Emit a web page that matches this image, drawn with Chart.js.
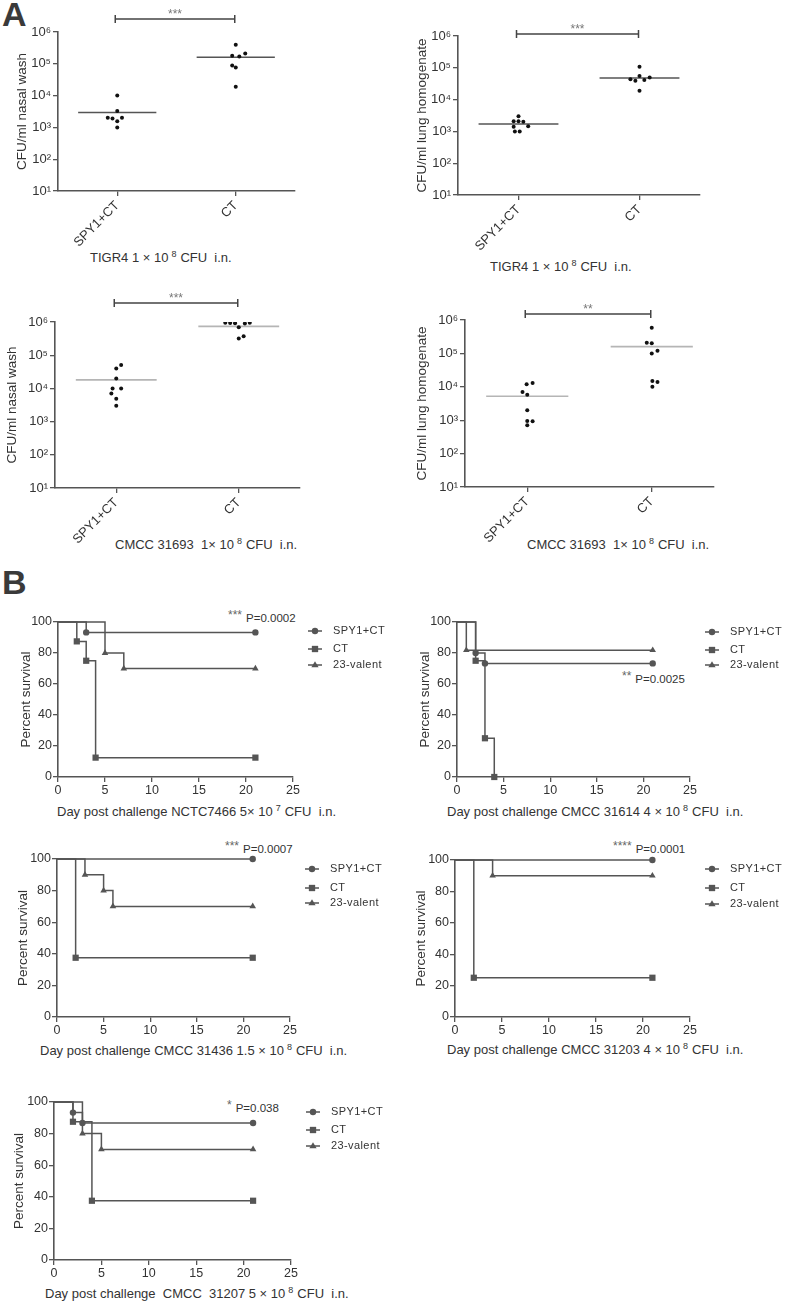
<!DOCTYPE html>
<html>
<head>
<meta charset="utf-8">
<script src="https://cdn.jsdelivr.net/npm/chart.js@4.4.1/dist/chart.umd.min.js"></script>
<style>
body{margin:0;background:#fff;}
#wrap{position:relative;width:785px;height:1304px;overflow:hidden;font-family:"Liberation Sans",Arial,sans-serif;color:#333;}
#wrap canvas{position:absolute;}
.lab{position:absolute;white-space:nowrap;font-size:13px;line-height:16px;}
.lab sup{font-size:9px;vertical-align:5px;line-height:0;margin-left:3px;margin-right:4px;}
.pv{position:absolute;white-space:nowrap;font-size:11.5px;line-height:14px;color:#333;}
.pv span{color:#666;font-size:12px;position:relative;top:-3px;margin-right:4px;}
.big{position:absolute;font-weight:bold;font-size:34px;line-height:34px;color:#3a3a3a;}
</style>
</head>
<body>
<div id="wrap">
  <div class="big" style="left:2px;top:-3px;">A</div>
  <div class="big" style="left:2px;top:565px;">B</div>

  <div class="lab" style="left:90px;top:250px;">TIGR4 1 × 10<sup>8</sup>CFU&nbsp; i.n.</div>
  <div class="lab" style="left:490px;top:259px;">TIGR4 1 × 10<sup>8</sup>CFU&nbsp; i.n.</div>
  <div class="lab" style="left:115px;top:537px;">CMCC 31693&nbsp; 1× 10<sup>8</sup>CFU&nbsp; i.n.</div>
  <div class="lab" style="left:527px;top:537px;">CMCC 31693&nbsp; 1× 10<sup>8</sup>CFU&nbsp; i.n.</div>

  <div class="lab" style="left:57px;top:804px;">Day post challenge NCTC7466 5× 10<sup>7</sup>CFU&nbsp; i.n.</div>
  <div class="lab" style="left:447px;top:804px;">Day post challenge CMCC 31614 4 × 10<sup>8</sup>CFU&nbsp; i.n.</div>
  <div class="lab" style="left:40px;top:1043px;">Day post challenge CMCC 31436 1.5 × 10<sup>8</sup>CFU&nbsp; i.n.</div>
  <div class="lab" style="left:447px;top:1042px;">Day post challenge CMCC 31203 4 × 10<sup>8</sup>CFU&nbsp; i.n.</div>
  <div class="lab" style="left:45px;top:1286px;">Day post challenge&nbsp; CMCC&nbsp; 31207 5 × 10<sup>8</sup>CFU&nbsp; i.n.</div>

  <div class="pv" style="left:228px;top:611px;"><span>***</span>P=0.0002</div>
  <div class="pv" style="left:622px;top:672px;"><span>**</span>P=0.0025</div>
  <div class="pv" style="left:225px;top:842px;"><span>***</span>P=0.0007</div>
  <div class="pv" style="left:613px;top:842px;"><span>****</span>P=0.0001</div>
  <div class="pv" style="left:227px;top:1101px;"><span>*</span>P=0.038</div>
</div>
<script>
Chart.defaults.font.family = '"Liberation Sans", Arial, sans-serif';
Chart.defaults.color = '#333';

var groups = ['SPY1+CT', 'CT'];
var decades = [10, 100, 1000, 10000, 100000, 1000000];
var supDigits = ['\u2070', '\u00b9', '\u00b2', '\u00b3', '\u2074', '\u2075', '\u2076'];

// TIGR4 nasal wash
var a1SpyJit = [0, 0, -0.08, -0.04, 0.04, 0, 0];
var a1SpyCfu = [10000, 3300, 2000, 1900, 2000, 1550, 1000];
var a1CtJit = [0, -0.03, 0.03, 0.08, -0.03, 0, 0];
var a1CtCfu = [400000, 180000, 170000, 210000, 89000, 77000, 19000];
var a1Median = [2950, 160000];

// TIGR4 lung homogenate
var a2SpyJit = [0, -0.04, 0, 0.04, -0.04, 0.08, -0.03, 0.01];
var a2SpyCfu = [3000, 2100, 2100, 2000, 1400, 1450, 1000, 1000];
var a2CtJit = [0, -0.075, -0.034, 0, 0.04, 0.084, 0];
var a2CtCfu = [107000, 44000, 39000, 55000, 41000, 49500, 19000];
var a2Median = [1700, 48000];

// CMCC 31693 nasal wash
var a3SpyJit = [0.04, 0, 0, -0.03, 0.04, -0.04, 0, 0];
var a3SpyCfu = [51000, 40000, 20000, 10000, 10000, 7000, 4900, 3000];
var a3CtJit = [-0.11, -0.07, -0.03, 0.05, 0.09, 0, 0.04, 0];
var a3CtCfu = [950000, 940000, 920000, 900000, 950000, 690000, 370000, 320000];
var a3Median = [18000, 740000];

// CMCC 31693 lung homogenate
var a4SpyJit = [0.043, -0.005, -0.038, 0, 0, 0, 0.043, 0];
var a4SpyCfu = [13000, 12000, 7000, 5800, 2000, 950, 930, 700];
var a4CtJit = [0, -0.04, 0, 0.046, 0, 0.005, 0.046, 0.005];
var a4CtCfu = [590000, 210000, 200000, 120000, 100000, 15000, 14000, 10000];
var a4Median = [5200, 160000];

// survival, day of event and percent surviving
var survLabels = ['SPY1+CT', 'CT', '23-valent'];
var survStyles = ['circle', 'rect', 'triangle'];
var survRadius = [3.2, 4.4, 3.8];

var b1SpyDay = [0, 3, 21];
var b1SpyPct = [100, 93.3, 93.3];
var b1CtDay = [0, 2, 3, 4, 21];
var b1CtPct = [100, 87.5, 75, 12.5, 12.5];
var b1VacDay = [0, 5, 7, 21];
var b1VacPct = [100, 80, 70, 70];

var b2SpyDay = [0, 2, 3, 21];
var b2SpyPct = [100, 80, 73.3, 73.3];
var b2CtDay = [0, 2, 3, 4];
var b2CtPct = [100, 75, 25, 0];
var b2VacDay = [0, 1, 21];
var b2VacPct = [100, 81.8, 81.8];

var b3SpyDay = [0, 21];
var b3SpyPct = [100, 100];
var b3CtDay = [0, 2, 21];
var b3CtPct = [100, 37.5, 37.5];
var b3VacDay = [0, 3, 5, 6, 21];
var b3VacPct = [100, 90, 80, 70, 70];

var b4SpyDay = [0, 21];
var b4SpyPct = [100, 100];
var b4CtDay = [0, 2, 21];
var b4CtPct = [100, 25, 25];
var b4VacDay = [0, 4, 21];
var b4VacPct = [100, 90, 90];

var b5SpyDay = [0, 2, 3, 21];
var b5SpyPct = [100, 93.3, 86.7, 86.7];
var b5CtDay = [0, 2, 4, 21];
var b5CtPct = [100, 87.5, 37.5, 37.5];
var b5VacDay = [0, 3, 5, 21];
var b5VacPct = [100, 80, 70, 70];

function addCanvas(cell){
    var cv = document.createElement('canvas');
    cv.width = cell[2]; cv.height = cell[3];
    cv.style.left = cell[0] + 'px'; cv.style.top = cell[1] + 'px';
    cv.style.width = cell[2] + 'px'; cv.style.height = cell[3] + 'px';
    document.getElementById('wrap').appendChild(cv);
    return cv;
}
function pad(cell, area, yw, xh){
    return {left: area[0] - cell[0] - yw, top: area[1] - cell[1],
            right: cell[0] + cell[2] - area[2], bottom: cell[1] + cell[3] - area[3] - xh};
}
function tickGrid(){
    return {drawOnChartArea:false, drawTicks:true, tickLength:5, color:'#555', lineWidth:1.3};
}
function marker(c, style, r, x, y){
    c.beginPath();
    if(style == 'circle'){ c.arc(x, y, r, 0, Math.PI * 2); }
    else if(style == 'rect'){ var s = r * 0.72; c.rect(x - s, y - s, 2 * s, 2 * s); }
    else { c.moveTo(x, y - r); c.lineTo(x + r * 0.95, y + r * 0.6); c.lineTo(x - r * 0.95, y + r * 0.6); c.closePath(); }
    c.fill();
}

// significance bracket above the two groups
var sigPlugin = {
    id: 'sig',
    afterDraw: function(chart, args, o){
        if(!o || !o.label) return;
        var c = chart.ctx, sx = chart.scales.x, a = chart.chartArea;
        var x1 = sx.getPixelForValue(1) - 2, x2 = sx.getPixelForValue(2) - 1, y = a.top - o.gap;
        c.save();
        c.strokeStyle = '#444'; c.lineWidth = 1.5;
        c.beginPath();
        c.moveTo(x1, y - 4); c.lineTo(x1, y + 4);
        c.moveTo(x1, y); c.lineTo(x2, y);
        c.moveTo(x2, y - 4); c.lineTo(x2, y + 4);
        c.stroke();
        c.fillStyle = '#777'; c.font = '12px "Liberation Sans"';
        c.textAlign = 'center'; c.textBaseline = 'alphabetic';
        c.fillText(o.label, (x1 + x2) / 2, y - 1);
        c.restore();
    }
};

// prism style legend: short line with the marker on it
var kmLegend = {
    id: 'kmLegend',
    afterDraw: function(chart, args, o){
        if(!o || !o.rows) return;
        var c = chart.ctx, a = chart.chartArea;
        c.save();
        chart.data.datasets.forEach(function(ds, i){
            var y = a.top + o.rows[i], x0 = a.right + 15;
            c.strokeStyle = '#555'; c.lineWidth = 1.5;
            c.beginPath(); c.moveTo(x0, y); c.lineTo(x0 + 14, y); c.stroke();
            c.fillStyle = '#555';
            marker(c, survStyles[i], survRadius[i], x0 + 7, y);
            c.fillStyle = '#333'; c.font = '11px "Liberation Sans"';
            c.textAlign = 'left'; c.textBaseline = 'middle';
            if('letterSpacing' in c) c.letterSpacing = '0.4px';
            c.fillText(ds.label, x0 + 25, y);
        });
        c.restore();
    }
};

function pts(xs, ys, base){
    return xs.map(function(v, i){ return {x: base + v, y: ys[i]}; });
}

function makeDots(cell, area, yw, yTitle, spyJit, spyCfu, ctJit, ctCfu, median, medColor, gap, stars){
    var xh = 62;
    var dot = {type:'scatter', pointRadius:2, pointBackgroundColor:'#111', pointBorderWidth:0, pointHoverRadius:2};
    var med = function(g, m){
        return {type:'line', data:[{x:g - 0.33, y:m}, {x:g + 0.33, y:m}], borderColor:medColor,
                borderWidth:1.6, pointRadius:0, fill:false};
    };
    return new Chart(addCanvas(cell), {
        type: 'scatter',
        data: {datasets: [
            Object.assign({data: pts(spyJit, spyCfu, 1)}, dot),
            Object.assign({data: pts(ctJit, ctCfu, 2)}, dot),
            med(1, median[0]), med(2, median[1])
        ]},
        options: {
            responsive:false, animation:false, devicePixelRatio:1,
            layout:{padding: pad(cell, area, yw, xh)},
            plugins:{legend:{display:false}, tooltip:{enabled:false}, sig:{gap:gap, label:stars}},
            scales:{
                x:{type:'linear', min:0.5, max:2.5,
                   afterBuildTicks:function(s){ s.ticks = [{value:1}, {value:2}]; },
                   afterFit:function(s){ s.height = xh; },
                   ticks:{autoSkip:false, minRotation:45, maxRotation:45, padding:2, font:{size:13},
                          callback:function(v){ return groups[v - 1]; }},
                   grid:tickGrid(), border:{color:'#555', width:1.6}},
                y:{type:'logarithmic', min:10, max:1000000,
                   afterBuildTicks:function(s){ s.ticks = decades.map(function(v){ return {value:v}; }); },
                   afterFit:function(s){ s.width = yw; },
                   ticks:{autoSkip:false, padding:2, font:{size:13},
                          callback:function(v){ return '10' + supDigits[Math.round(Math.log10(v))]; }},
                   grid:tickGrid(), border:{color:'#555', width:1.6},
                   title:{display:true, text:yTitle, font:{size:13.5}, color:'#333', padding:{top:4, bottom:4}}}
            }
        },
        plugins:[sigPlugin]
    });
}

function makeSurv(cell, area, yw, series, rows){
    var xh = 22;
    var sets = series.map(function(s, i){
        return {label:survLabels[i], data: pts(s[0], s[1], 0), stepped:'before', borderColor:'#555',
                borderWidth:1.5, backgroundColor:'#555', pointBackgroundColor:'#555', pointBorderWidth:0,
                pointStyle:survStyles[i], clip:false, fill:false,
                pointRadius:function(ctx){ return ctx.dataIndex === 0 ? 0 : survRadius[i]; },
                pointHoverRadius:function(ctx){ return ctx.dataIndex === 0 ? 0 : survRadius[i]; }};
    });
    return new Chart(addCanvas(cell), {
        type: 'line',
        data: {datasets: sets},
        options: {
            responsive:false, animation:false, devicePixelRatio:1,
            layout:{padding: pad(cell, area, yw, xh)},
            plugins:{legend:{display:false}, tooltip:{enabled:false}, kmLegend:{rows:rows}},
            scales:{
                x:{type:'linear', min:0, max:25, afterFit:function(s){ s.height = xh; },
                   ticks:{stepSize:5, maxRotation:0, padding:1, font:{size:12.5}},
                   grid:tickGrid(), border:{color:'#555', width:1.6}},
                y:{min:0, max:100, afterFit:function(s){ s.width = yw; },
                   ticks:{stepSize:20, padding:1, font:{size:12.5}},
                   grid:tickGrid(), border:{color:'#555', width:1.6},
                   title:{display:true, text:'Percent survival', font:{size:13.5}, color:'#333', padding:{top:4, bottom:4}}}
            }
        },
        plugins:[kmLegend]
    });
}

makeDots([0, 0, 390, 290], [58, 32, 295, 191], 48, 'CFU/ml nasal wash',
    a1SpyJit, a1SpyCfu, a1CtJit, a1CtCfu, a1Median, '#555', 13, '***');
makeDots([390, 0, 395, 290], [458, 36, 700, 195], 48, 'CFU/ml lung homogenate',
    a2SpyJit, a2SpyCfu, a2CtJit, a2CtCfu, a2Median, '#555', 2, '***');
makeDots([0, 290, 390, 270], [55, 322, 300, 488], 55, 'CFU/ml nasal wash',
    a3SpyJit, a3SpyCfu, a3CtJit, a3CtCfu, a3Median, '#b5b5b5', 19, '***');
makeDots([390, 290, 395, 270], [465, 320, 714, 487], 55, 'CFU/ml lung homogenate',
    a4SpyJit, a4SpyCfu, a4CtJit, a4CtCfu, a4Median, '#b5b5b5', 6, '**');

makeSurv([0, 560, 390, 250], [58, 622, 293, 777], 44,
    [[b1SpyDay, b1SpyPct], [b1CtDay, b1CtPct], [b1VacDay, b1VacPct]], [9, 27, 43]);
makeSurv([390, 560, 395, 250], [457, 622, 690, 777], 44,
    [[b2SpyDay, b2SpyPct], [b2CtDay, b2CtPct], [b2VacDay, b2VacPct]], [10, 28, 43]);
makeSurv([0, 800, 390, 240], [57, 859, 290, 1017], 46,
    [[b3SpyDay, b3SpyPct], [b3CtDay, b3CtPct], [b3VacDay, b3VacPct]], [10, 29, 44]);
makeSurv([390, 800, 395, 240], [455, 860, 690, 1017], 46,
    [[b4SpyDay, b4SpyPct], [b4CtDay, b4CtPct], [b4VacDay, b4VacPct]], [9, 28, 44]);
makeSurv([0, 1040, 390, 250], [54, 1102, 291, 1260], 47,
    [[b5SpyDay, b5SpyPct], [b5CtDay, b5CtPct], [b5VacDay, b5VacPct]], [10, 28, 44]);
</script>
</body>
</html>
